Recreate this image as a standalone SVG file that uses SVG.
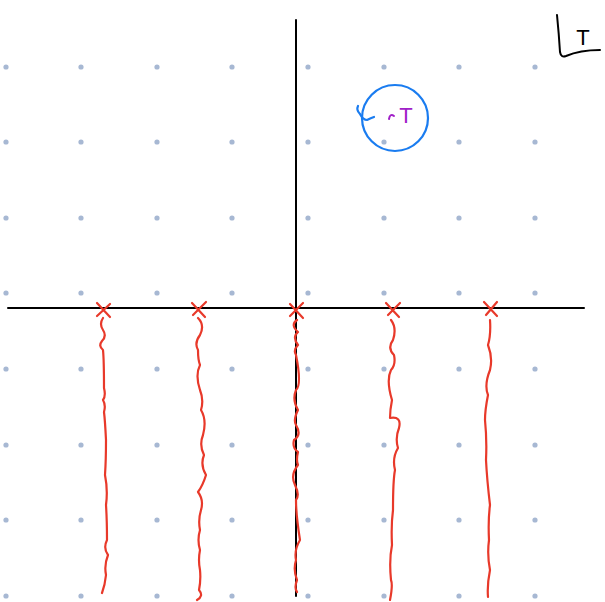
<svg xmlns="http://www.w3.org/2000/svg" width="605" height="602" viewBox="0 0 605 602">
<style>
.dot{fill:#a7b8d3}
.axis{stroke:#000;stroke-width:2;fill:none;stroke-linecap:round}
.red{stroke:#e8392a;stroke-width:2.2;fill:none;stroke-linecap:round;stroke-linejoin:round}
.blue{stroke:#1a7cf0;stroke-width:2.2;fill:none;stroke-linecap:round}
.lbl{font-family:"Liberation Sans",Arial,sans-serif}
</style>
<rect width="605" height="602" fill="#fff"/>
<g id="grid-dots">
<g class="dot">
<circle cx="6" cy="67" r="2.6"/><circle cx="81" cy="67" r="2.6"/><circle cx="157" cy="67" r="2.6"/><circle cx="232" cy="67" r="2.6"/><circle cx="308" cy="67" r="2.6"/><circle cx="384" cy="67" r="2.6"/><circle cx="459" cy="67" r="2.6"/><circle cx="535" cy="67" r="2.6"/>
<circle cx="6" cy="142" r="2.6"/><circle cx="81" cy="142" r="2.6"/><circle cx="157" cy="142" r="2.6"/><circle cx="232" cy="142" r="2.6"/><circle cx="308" cy="142" r="2.6"/><circle cx="384" cy="142" r="2.6"/><circle cx="459" cy="142" r="2.6"/><circle cx="535" cy="142" r="2.6"/>
<circle cx="6" cy="218" r="2.6"/><circle cx="81" cy="218" r="2.6"/><circle cx="157" cy="218" r="2.6"/><circle cx="232" cy="218" r="2.6"/><circle cx="308" cy="218" r="2.6"/><circle cx="384" cy="218" r="2.6"/><circle cx="459" cy="218" r="2.6"/><circle cx="535" cy="218" r="2.6"/>
<circle cx="6" cy="293" r="2.6"/><circle cx="81" cy="293" r="2.6"/><circle cx="157" cy="293" r="2.6"/><circle cx="232" cy="293" r="2.6"/><circle cx="308" cy="293" r="2.6"/><circle cx="384" cy="293" r="2.6"/><circle cx="459" cy="293" r="2.6"/><circle cx="535" cy="293" r="2.6"/>
<circle cx="6" cy="369" r="2.6"/><circle cx="81" cy="369" r="2.6"/><circle cx="157" cy="369" r="2.6"/><circle cx="232" cy="369" r="2.6"/><circle cx="308" cy="369" r="2.6"/><circle cx="384" cy="369" r="2.6"/><circle cx="459" cy="369" r="2.6"/><circle cx="535" cy="369" r="2.6"/>
<circle cx="6" cy="445" r="2.6"/><circle cx="81" cy="445" r="2.6"/><circle cx="157" cy="445" r="2.6"/><circle cx="232" cy="445" r="2.6"/><circle cx="308" cy="445" r="2.6"/><circle cx="384" cy="445" r="2.6"/><circle cx="459" cy="445" r="2.6"/><circle cx="535" cy="445" r="2.6"/>
<circle cx="6" cy="520" r="2.6"/><circle cx="81" cy="520" r="2.6"/><circle cx="157" cy="520" r="2.6"/><circle cx="232" cy="520" r="2.6"/><circle cx="308" cy="520" r="2.6"/><circle cx="384" cy="520" r="2.6"/><circle cx="459" cy="520" r="2.6"/><circle cx="535" cy="520" r="2.6"/>
<circle cx="6" cy="596" r="2.6"/><circle cx="81" cy="596" r="2.6"/><circle cx="157" cy="596" r="2.6"/><circle cx="232" cy="596" r="2.6"/><circle cx="308" cy="596" r="2.6"/><circle cx="384" cy="596" r="2.6"/><circle cx="459" cy="596" r="2.6"/><circle cx="535" cy="596" r="2.6"/>
</g>
</g>
<g id="axes">
<path class="axis" d="M296 20 L296 596"/>
<path class="axis" d="M8 308 L584 308"/>
</g>
<g id="corner-label">
<path class="axis" d="M557 15 Q559 35 560 52 Q561 58 566 56 Q580 50 600 50"/>
<text class="lbl" x="583" y="45" font-size="22" text-anchor="middle" fill="#000">T</text>
</g>
<g id="point-T">
<circle class="blue" cx="395" cy="118" r="33"/>
<path class="blue" d="M358 106 Q356 110 360 114 Q363 120 367 120 Q371 118 374 117"/>
<path d="M389 119 Q390 113 394 116" stroke="#a020c8" stroke-width="2" fill="none" stroke-linecap="round"/>
<text class="lbl" x="406" y="123" font-size="22" text-anchor="middle" fill="#a020c8">T</text>
</g>
<g id="markers">
<path class="red" d="M97 303 L110 317 M110 304 L97 316"/>
<path class="red" d="M192 303 L205 317 M206 302 L193 315"/>
<path class="red" d="M290 304 L303 318 M303 303 L290 316"/>
<path class="red" d="M386 303 L399 317 M400 303 L388 315"/>
<path class="red" d="M484 302 L497 316 M497 302 L486 315"/>
</g>
<g id="connectors">
<path class="red" d="M103 318 Q99 324 103 330 Q107 336 102 341 Q98 346 103 350 Q104 360 104 388 Q106 396 103 400 Q106 405 104 412 Q105 420 106 440 Q106 460 105 475 Q108 490 106 505 Q107 520 107 540 Q103 548 108 555 Q104 565 106 575 Q105 585 102 593"/>
<path class="red" d="M198 318 Q205 325 200 335 Q194 343 198 350 Q198 360 200 365 Q195 375 200 390 Q204 400 201 410 Q207 420 203 435 Q199 445 204 455 Q200 465 206 475 Q203 485 198 492 Q204 500 201 510 Q198 520 200 530 Q197 540 200 550 Q198 560 200 570 Q201 580 199 590 Q204 596 197 600"/>
<path class="red" d="M297 320 Q290 325 298 332 Q292 337 298 345 Q293 350 296 355 Q302 385 296 390 Q292 400 298 410 Q293 420 296 425 Q302 435 294 440 Q292 448 298 452 Q296 460 298 465 Q290 475 295 485 Q300 495 296 500 Q296 515 300 540 Q294 550 296 560 Q293 570 297 580 Q294 588 297 592"/>
<path class="red" d="M391 320 Q397 328 393 340 Q387 348 394 355 Q396 365 391 370 Q386 380 392 400 Q390 410 390 418 Q402 416 399 428 Q395 438 398 448 Q392 458 395 470 Q393 480 393 510 Q391 525 392 545 Q389 560 391 580 Q393 585 390 600"/>
<path class="red" d="M490 320 Q491 335 488 345 Q493 358 490 370 Q484 385 488 395 Q485 410 485 420 Q487 440 486 460 Q487 480 490 505 Q488 520 489 540 Q487 555 490 570 Q487 585 488 597"/>
</g>
</svg>
